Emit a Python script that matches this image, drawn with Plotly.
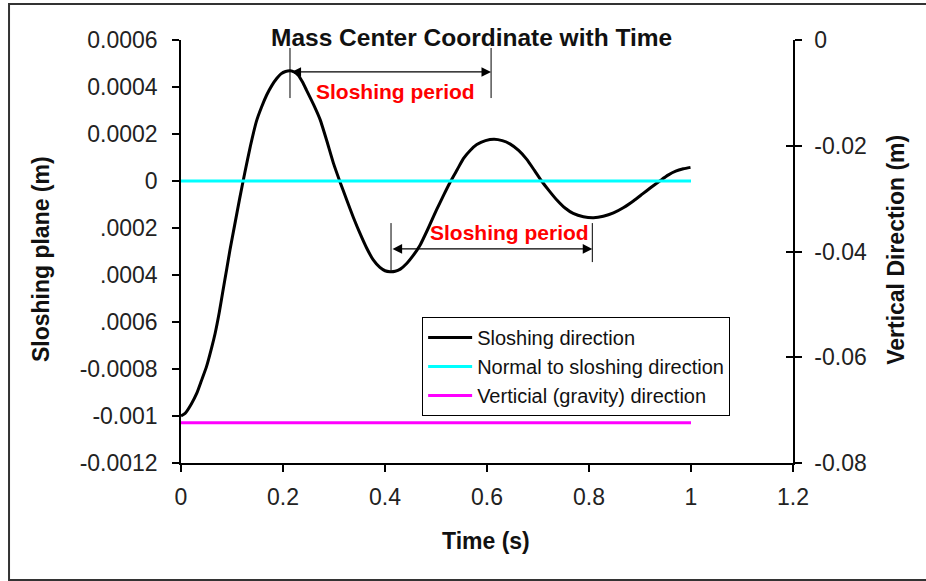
import plotly.graph_objects as go

# ---- data ----
time_s = [0.000, 0.008, 0.020, 0.031, 0.040, 0.050, 0.060, 0.067, 0.075, 0.082, 0.090, 0.096,
          0.105, 0.115, 0.125, 0.136, 0.148, 0.158, 0.168, 0.178, 0.188, 0.196, 0.205, 0.214,
          0.222, 0.230, 0.238, 0.246, 0.260, 0.273, 0.286, 0.299, 0.312, 0.325, 0.338, 0.351,
          0.364, 0.377, 0.390, 0.400, 0.410, 0.420, 0.430, 0.443, 0.455, 0.469, 0.485, 0.501,
          0.515, 0.529, 0.542, 0.554, 0.567, 0.580, 0.597, 0.614, 0.630, 0.645, 0.662, 0.678,
          0.693, 0.707, 0.722, 0.737, 0.753, 0.769, 0.789, 0.809, 0.828, 0.848, 0.868, 0.887,
          0.905, 0.920, 0.940, 0.955, 0.970, 0.985, 0.999]
sloshing = [-0.001000, -0.000989, -0.000950, -0.000903, -0.000850, -0.000790, -0.000710, -0.000648,
            -0.000560, -0.000470, -0.000370, -0.000294, -0.000190, -0.000075, 0.000034, 0.000148,
            0.000255, 0.000315, 0.000366, 0.000406, 0.000437, 0.000456, 0.000466, 0.000469,
            0.000464, 0.000450, 0.000422, 0.000387, 0.000325, 0.000260, 0.000170, 0.000075,
            -0.000005, -0.000081, -0.000155, -0.000223, -0.000285, -0.000336, -0.000368, -0.000382,
            -0.000386, -0.000384, -0.000375, -0.000350, -0.000318, -0.000272, -0.000200, -0.000123,
            -0.000060, 0.000000, 0.000050, 0.000096, 0.000130, 0.000155, 0.000172, 0.000178,
            0.000172, 0.000158, 0.000130, 0.000092, 0.000045, 0.000000, -0.000042, -0.000081,
            -0.000115, -0.000138, -0.000152, -0.000156, -0.000150, -0.000136, -0.000113, -0.000085,
            -0.000055, -0.000030, 0.000002, 0.000025, 0.000042, 0.000052, 0.000058]
normal_t = [0.0, 1.0]
normal_v = [0.0, 0.0]
vertical_t = [0.0, 1.0]
vertical_v = [-0.0724, -0.0724]

x_ticks = [0, 0.2, 0.4, 0.6, 0.8, 1, 1.2]
x_ticktext = ["0", "0.2", "0.4", "0.6", "0.8", "1", "1.2"]
y_ticks = [0.0006, 0.0004, 0.0002, 0, -0.0002, -0.0004, -0.0006, -0.0008, -0.001, -0.0012]
y_ticktext = ["0.0006", "0.0004", "0.0002", "0", ".0002", ".0004", ".0006", "-0.0008", "-0.001", "-0.0012"]
y2_ticks = [0, -0.02, -0.04, -0.06, -0.08]
y2_ticktext = ["0", "-0.02", "-0.04", "-0.06", "-0.08"]

# sloshing period markers
period1 = dict(t0=0.2137, t1=0.608, ytop=0.000566, ybot=0.000353, ybot_r=0.000353, yarrow=0.000464,
               xtext=0.42, ytext=0.000379)
period2 = dict(t0=0.4118, t1=0.8065, ytop=-0.000179, ybot=-0.000387, ybot_r=-0.000345, yarrow=-0.000289,
               xtext=0.645, ytext=-0.000217)

FONT = "Liberation Sans, Arial, sans-serif"
TICKC = "#222222"

fig = go.Figure()
fig.add_trace(go.Scatter(x=time_s, y=sloshing, mode="lines", name="Sloshing direction",
                         line=dict(color="black", width=3, shape="spline", smoothing=0.5)))
fig.add_trace(go.Scatter(x=normal_t, y=normal_v, mode="lines", name="Normal to sloshing direction",
                         line=dict(color="#00FFFF", width=3)))
fig.add_trace(go.Scatter(x=vertical_t, y=vertical_v, mode="lines", name="Verticial (gravity) direction",
                         yaxis="y2", line=dict(color="#FF00FF", width=3)))
fig.add_trace(go.Scatter(x=[None], y=[None], yaxis="y3", showlegend=False, hoverinfo="skip"))

axis_common = dict(showgrid=False, zeroline=False, showline=True, linecolor="black", linewidth=1.5,
                   ticks="outside", ticklen=7, tickwidth=1.5, tickcolor="black",
                   tickfont=dict(family=FONT, size=23, color=TICKC))

fig.update_layout(
    width=926, height=581,
    margin=dict(l=181, r=133, t=40, b=118),
    paper_bgcolor="white", plot_bgcolor="white",
    showlegend=True,
    xaxis=dict(range=[0, 1.2], tickvals=x_ticks, ticktext=x_ticktext, ticklabelstandoff=6, **axis_common),
    yaxis=dict(range=[-0.0012, 0.0006], tickvals=y_ticks, ticktext=y_ticktext, ticklabelstandoff=10, **axis_common),
    yaxis2=dict(range=[-0.08, 0], overlaying="y", side="right", anchor="x",
                tickvals=y2_ticks, ticktext=y2_ticktext, ticklabelstandoff=8, **axis_common),
    yaxis3=dict(range=[-0.08, 0], overlaying="y", side="right", anchor="x", showgrid=False, zeroline=False,
                showline=False, ticks="inside", ticklen=7, tickwidth=1.5, tickcolor="black",
                tickvals=y2_ticks, showticklabels=False),
    legend=dict(x=0.394, y=0.345, xanchor="left", yanchor="top", bgcolor="white",
                bordercolor="black", borderwidth=1, font=dict(family=FONT, size=20, color="#111"),
                itemwidth=44, tracegroupgap=0),
)

ann = []
ann.append(dict(text="<b>Mass Center Coordinate with Time</b>", xref="paper", yref="paper", x=0.4747, y=1.007,
                xanchor="center", yanchor="middle", showarrow=False, font=dict(family=FONT, size=24.5, color="#111")))
ann.append(dict(text="<b>Sloshing plane (m)</b>", xref="paper", yref="paper", x=-0.2288, y=0.482,
                textangle=-90, xanchor="center", yanchor="middle", showarrow=False,
                font=dict(family=FONT, size=23, color="#111")))
ann.append(dict(text="<b>Vertical Direction (m)</b>", xref="paper", yref="paper", x=1.168, y=0.5035,
                textangle=-90, xanchor="center", yanchor="middle", showarrow=False,
                font=dict(family=FONT, size=23, color="#111")))
ann.append(dict(text="<b>Time (s)</b>", xref="paper", yref="paper", x=0.498, y=-0.184,
                xanchor="center", yanchor="middle", showarrow=False, font=dict(family=FONT, size=23, color="#111")))

shapes = []
for p in (period1, period2):
    shapes.append(dict(type="line", xref="x", yref="y", x0=p["t0"], x1=p["t0"], y0=p["ybot"], y1=p["ytop"],
                       line=dict(color="black", width=1)))
    shapes.append(dict(type="line", xref="x", yref="y", x0=p["t1"], x1=p["t1"], y0=p["ybot_r"], y1=p["ytop"],
                       line=dict(color="black", width=1)))
    ann.append(dict(x=p["t1"], y=p["yarrow"], ax=p["t0"], ay=p["yarrow"], xref="x", yref="y",
                    axref="x", ayref="y", text="", showarrow=True, arrowhead=2, arrowside="end+start",
                    arrowsize=1.6, arrowwidth=1.2, arrowcolor="black", standoff=0, startstandoff=0))
    ann.append(dict(x=p["xtext"], y=p["ytext"], xref="x", yref="y", text="<b>Sloshing period</b>", showarrow=False,
                    xanchor="center", yanchor="middle", font=dict(family=FONT, size=21, color="#FF0000")))

shapes.append(dict(type="rect", xref="paper", yref="paper", x0=-0.281, x1=1.23, y0=-0.2766, y1=1.0851,
                   line=dict(color="#333333", width=2), fillcolor="rgba(0,0,0,0)", layer="below"))

fig.update_layout(annotations=ann, shapes=shapes)
fig.write_html("out.html")
